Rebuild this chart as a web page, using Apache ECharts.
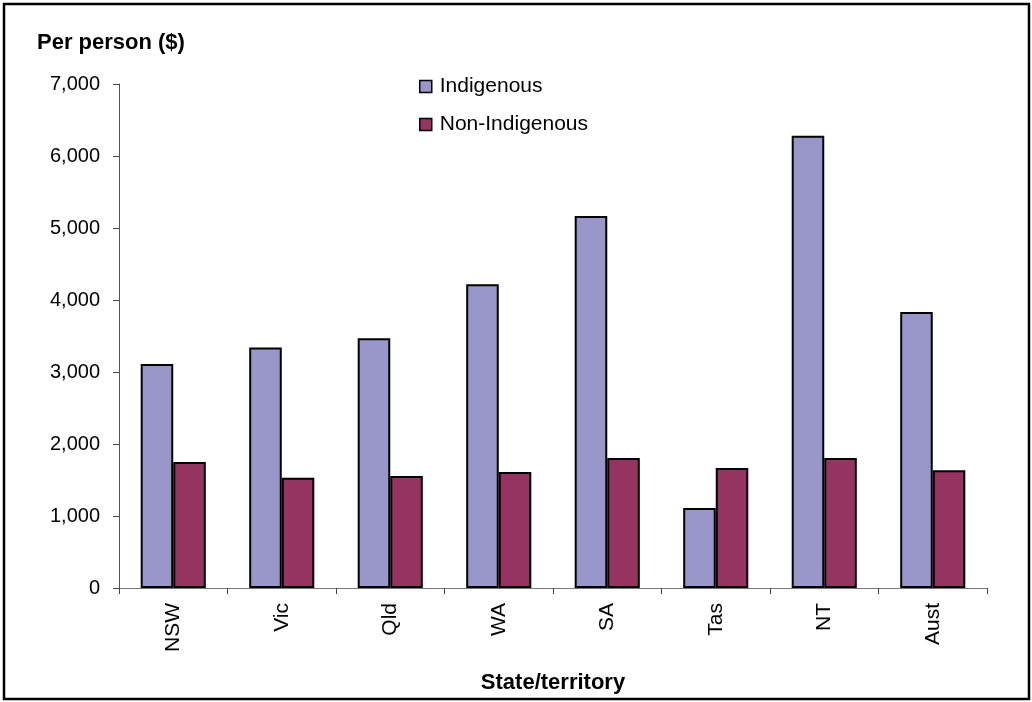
<!DOCTYPE html>
<html>
<head>
<meta charset="utf-8">
<script src="https://cdn.jsdelivr.net/npm/echarts@6/dist/echarts.min.js"></script>
<style>
  html, body { margin: 0; padding: 0; background: #fff; }
  #chart { width: 1032px; height: 702px; }
</style>
</head>
<body>
<div id="chart"></div>
<script>
// Expenditure per person by state/territory
const states = ['NSW', 'Vic', 'Qld', 'WA', 'SA', 'Tas', 'NT', 'Aust'];
const indigenous = [3110, 3340, 3470, 4220, 5165, 1110, 6280, 3835];
const nonIndigenous = [1750, 1530, 1555, 1610, 1805, 1665, 1805, 1635];
const seriesNames = ['Indigenous', 'Non-Indigenous'];
const yTicks = [0, 1000, 2000, 3000, 4000, 5000, 6000, 7000];

const FONT = 'Liberation Sans, Arial, sans-serif';
const colors = ['#9996C9', '#953361'];

const chart = echarts.init(document.getElementById('chart'), null, { renderer: 'canvas' });

chart.setOption({
  animation: false,
  backgroundColor: '#ffffff',
  textStyle: { fontFamily: FONT, color: '#000' },
  title: {
    text: 'Per person ($)',
    left: 32,
    top: 27,
    textStyle: { fontFamily: FONT, fontSize: 22, fontWeight: 'bold', color: '#000' }
  },
  graphic: [{
    type: 'rect',
    shape: { x: 4, y: 4, width: 1025, height: 695 },
    style: { fill: 'none', stroke: '#000', lineWidth: 2.5 },
    silent: true
  }],
  legend: {
    orient: 'vertical',
    left: 414,
    top: 71,
    itemWidth: 12,
    itemHeight: 12,
    itemGap: 17,
    icon: 'rect',
    data: seriesNames,
    textStyle: { fontFamily: FONT, fontSize: 21, color: '#000', padding: [0, 0, 0, 3] },
    itemStyle: { borderColor: '#000', borderWidth: 1.5 }
  },
  grid: { left: 119, right: 45, top: 84, bottom: 114, containLabel: false, outerBoundsMode: 'none' },
  xAxis: {
    type: 'category',
    data: states,
    name: 'State/territory',
    nameLocation: 'middle',
    nameGap: 84,
    nameTextStyle: { fontFamily: FONT, fontSize: 22, fontWeight: 'bold', color: '#000' },
    axisLine: { lineStyle: { color: '#777', width: 1 } },
    axisTick: { show: true, length: 6, lineStyle: { color: '#444' } },
    axisLabel: { rotate: 90, margin: 15, fontFamily: FONT, fontSize: 21, color: '#000' },
    splitLine: { show: false }
  },
  yAxis: {
    type: 'value',
    min: yTicks[0],
    max: yTicks[yTicks.length - 1],
    interval: 1000,
    axisLine: { show: true, lineStyle: { color: '#555', width: 1 } },
    axisTick: { show: true, length: 6, lineStyle: { color: '#444' } },
    axisLabel: {
      margin: 19,
      fontFamily: FONT,
      fontSize: 20,
      color: '#000',
      formatter: v => v.toLocaleString('en-US')
    },
    splitLine: { show: false }
  },
  series: [
    {
      name: seriesNames[0],
      type: 'bar',
      data: indigenous,
      barGap: '0%',
      barCategoryGap: '40%',
      itemStyle: { color: colors[0], borderColor: '#000', borderWidth: 2 }
    },
    {
      name: seriesNames[1],
      type: 'bar',
      data: nonIndigenous,
      barGap: '0%',
      barCategoryGap: '40%',
      itemStyle: { color: colors[1], borderColor: '#000', borderWidth: 2 }
    }
  ]
});
</script>
</body>
</html>
